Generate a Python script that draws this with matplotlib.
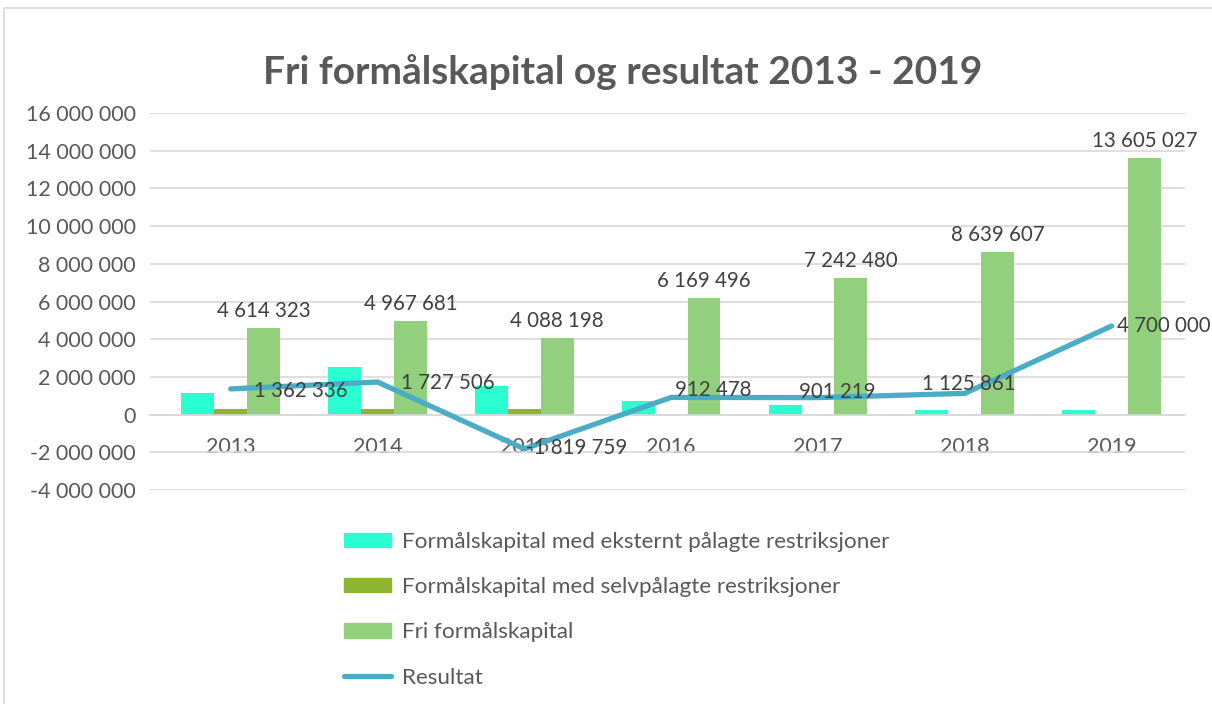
import matplotlib
matplotlib.use("Agg")
import matplotlib.pyplot as plt
from matplotlib.patches import Rectangle
from matplotlib.lines import Line2D
from matplotlib.ticker import FuncFormatter

plt.rcParams['font.family'] = ['Lato', 'DejaVu Sans']

years = ['2013', '2014', '2015', '2016', '2017', '2018', '2019']
ekstern = [1130000, 2500000, 1540000, 710000, 530000, 260000, 260000]
selv = [300000, 300000, 300000, 0, 0, 0, 0]
fri = [4614323, 4967681, 4088198, 6169496, 7242480, 8639607, 13605027]
resultat = [1362336, 1727506, -1819759, 912478, 901219, 1125861, 4700000]

# manual label offsets for the line (pixels: dx from point to text left edge, dy up)
res_dx = [23, 23, 2, 4, -19, -43, 5]
res_dy = [-2, -1, 1, 7, 6, 9, 0]

C_EKS = '#2BFFD2'
C_SELV = '#8DB532'
C_FRI = '#92D07E'
C_RES = '#4BACC6'
TXT = '#595959'


def fmt(v):
    s = f"{abs(int(round(v))):,}".replace(",", " ")
    return ("-" if v < 0 else "") + s


fig = plt.figure(figsize=(12.12, 7.04), dpi=100)
fig.patches.append(Rectangle((4 / 1212, -0.01), 1.0, 1 - 8 / 704 + 0.01,
                             transform=fig.transFigure, fill=False,
                             edgecolor='#d9d9d9', linewidth=1.2))

ax = fig.add_axes([150 / 1212, (704 - 490) / 704, 1035 / 1212, 377 / 704])
x = list(range(len(years)))
w = 0.224
ax.bar([i - w for i in x], ekstern, w, color=C_EKS, zorder=2)
ax.bar(x, selv, w, color=C_SELV, zorder=2)
ax.bar([i + w for i in x], fri, w, color=C_FRI, zorder=2)
ax.plot(x, resultat, color=C_RES, linewidth=3.8, solid_capstyle='round', zorder=3)

for i, v in enumerate(fri):
    ax.annotate(fmt(v), (i + w, v), xytext=(0, 5), textcoords='offset points',
                ha='center', va='bottom', fontsize=14.8, color='#404040')
for i, v in enumerate(resultat):
    ax.annotate(fmt(v), (i, v), xytext=(res_dx[i] * 0.72, res_dy[i] * 0.72),
                textcoords='offset points', ha='left', va='center',
                fontsize=14.8, color='#404040', zorder=4)

ax.set_xlim(-0.55, 6.5)
ax.set_ylim(-4000000, 16000000)
ax.set_yticks(range(-4000000, 16000001, 2000000))
ax.yaxis.set_major_formatter(FuncFormatter(lambda v, p: fmt(v)))
ax.grid(axis='y', color='#d9d9d9', linewidth=1.2, zorder=0)
ax.set_axisbelow(True)
for s in ['top', 'right', 'left']:
    ax.spines[s].set_visible(False)
ax.spines['bottom'].set_position(('data', 0))
ax.spines['bottom'].set_color('#d9d9d9')
ax.spines['bottom'].set_linewidth(1.2)
ax.set_xticks(x)
ax.set_xticklabels(years)
ax.tick_params(axis='x', length=0, pad=16, labelsize=15.5, labelcolor=TXT)
ax.tick_params(axis='y', length=0, pad=10, labelsize=15.5, labelcolor=TXT)

fig.text(623 / 1212, (704 - 72) / 704, 'Fri formålskapital og resultat 2013 - 2019',
         ha='center', va='center', fontsize=28, fontweight='bold', color=TXT)

handles = [
    Rectangle((0, 0), 1, 1, color=C_EKS),
    Rectangle((0, 0), 1, 1, color=C_SELV),
    Rectangle((0, 0), 1, 1, color=C_FRI),
    Line2D([0], [0], color=C_RES, linewidth=3.8, solid_capstyle='round'),
]
labels = ['Formålskapital med eksternt pålagte restriksjoner',
          'Formålskapital med selvpålagte restriksjoner',
          'Fri formålskapital', 'Resultat']
leg = fig.legend(handles, labels, loc='upper left',
                 bbox_to_anchor=(344 / 1212, (704 - 532) / 704),
                 frameon=False, fontsize=16.2, labelcolor=TXT,
                 handlelength=2.1, handleheight=0.6, handletextpad=0.5,
                 labelspacing=1.12, borderaxespad=0, borderpad=0)

fig.savefig('out.png', dpi=100)
